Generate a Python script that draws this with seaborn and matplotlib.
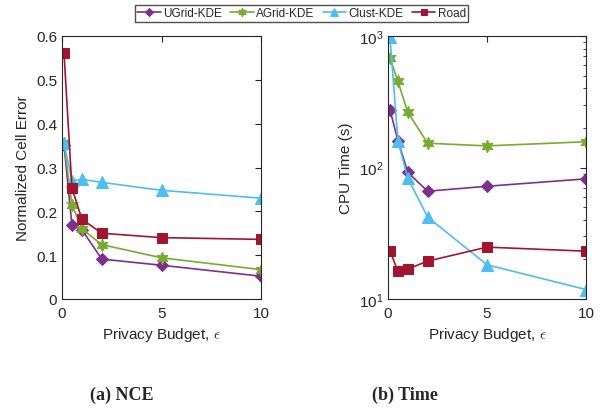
import numpy as np
import pandas as pd
import matplotlib
matplotlib.use("Agg")
import matplotlib.pyplot as plt
import seaborn as sns

# ------------------------------------------------------------
# data
# ------------------------------------------------------------
methods = ["UGrid-KDE", "AGrid-KDE", "Clust-KDE", "Road"]
eps = [0.1, 0.5, 1, 2, 5, 10]

nce_ugrid = [0.352, 0.168, 0.158, 0.091, 0.077, 0.052]
nce_agrid = [0.355, 0.215, 0.160, 0.124, 0.094, 0.067]
nce_clust = [0.357, 0.270, 0.273, 0.266, 0.248, 0.230]
nce_road  = [0.562, 0.253, 0.182, 0.150, 0.140, 0.136]

time_ugrid = [275, 160, 92, 66, 72, 82]
time_agrid = [680, 452, 263, 153, 146, 157]
time_clust = [980, 160, 83, 42, 18.2, 11.8]
time_road  = [23.3, 16.2, 16.9, 19.4, 24.8, 23.1]

colors  = ["#7E2F8E", "#77AC30", "#4DBEEE", "#A2142F"]
markers = ["D", (6, 1, 0), "^", "s"]
msizes  = [6.5, 9, 8.5, 7]

nce = [nce_ugrid, nce_agrid, nce_clust, nce_road]
cpu = [time_ugrid, time_agrid, time_clust, time_road]

rows = []
for m, a, b in zip(methods, nce, cpu):
    for e, v1, v2 in zip(eps, a, b):
        rows.append({"method": m, "eps": e, "nce": v1, "time": v2})
df = pd.DataFrame(rows)

sns.set_style("white")
plt.rcParams["font.family"] = ["Liberation Sans", "DejaVu Sans"]
plt.rcParams["mathtext.fontset"] = "cm"

fig = plt.figure(figsize=(6.03, 4.10), dpi=100)
W, H = 603, 410
ax1 = fig.add_axes([62 / W, 1 - 300 / H, 199 / W, 263 / H])
ax2 = fig.add_axes([388 / W, 1 - 300 / H, 198 / W, 263 / H])

for ax, col in [(ax1, "nce"), (ax2, "time")]:
    for m, c, mk, ms in zip(methods, colors, markers, msizes):
        sub = df[df["method"] == m]
        sns.lineplot(data=sub, x="eps", y=col, ax=ax, color=c, marker=mk,
                     markersize=ms, markeredgecolor=c, linewidth=1.2,
                     label=m, legend=False)
    ax.set_xlim(0, 10)
    ax.set_xticks([0, 5, 10])
    ax.set_xlabel(r"Privacy Budget, $\epsilon$", fontsize=11, color="#262626")
    ax.tick_params(direction="in", which="both", top=True, right=True,
                   labelsize=11, colors="#262626", length=4)
    ax.tick_params(axis="x", pad=5)
    for s in ax.spines.values():
        s.set_color("#262626")
        s.set_linewidth(0.8)

ax1.set_ylim(0, 0.6)
ax1.set_yticks([0, 0.1, 0.2, 0.3, 0.4, 0.5, 0.6])
ax1.set_yticklabels(["0", "0.1", "0.2", "0.3", "0.4", "0.5", "0.6"])
ax1.set_ylabel("Normalized Cell Error", fontsize=11, color="#262626")

ax2.set_yscale("log")
ax2.set_ylim(10, 1000)
ax2.set_ylabel("CPU Time (s)", fontsize=11, color="#262626")
ax2.tick_params(which="minor", length=2.5)

handles, labels = ax1.get_legend_handles_labels()
fig.legend(handles, labels, loc="upper center", bbox_to_anchor=(0.5, 1.0),
           ncol=4, fontsize=8.5, frameon=True, fancybox=False,
           edgecolor="#262626", handlelength=2.0, handletextpad=0.2,
           columnspacing=0.7, borderpad=0.2, markerscale=0.7)

fig.text(122 / W, 1 - 395 / H, "(a) NCE", ha="center", va="center",
         fontsize=13, fontweight="bold", family="Liberation Serif")
fig.text(405 / W, 1 - 395 / H, "(b) Time", ha="center", va="center",
         fontsize=13, fontweight="bold", family="Liberation Serif")

fig.savefig("out.png", dpi=100)
plt.close()
